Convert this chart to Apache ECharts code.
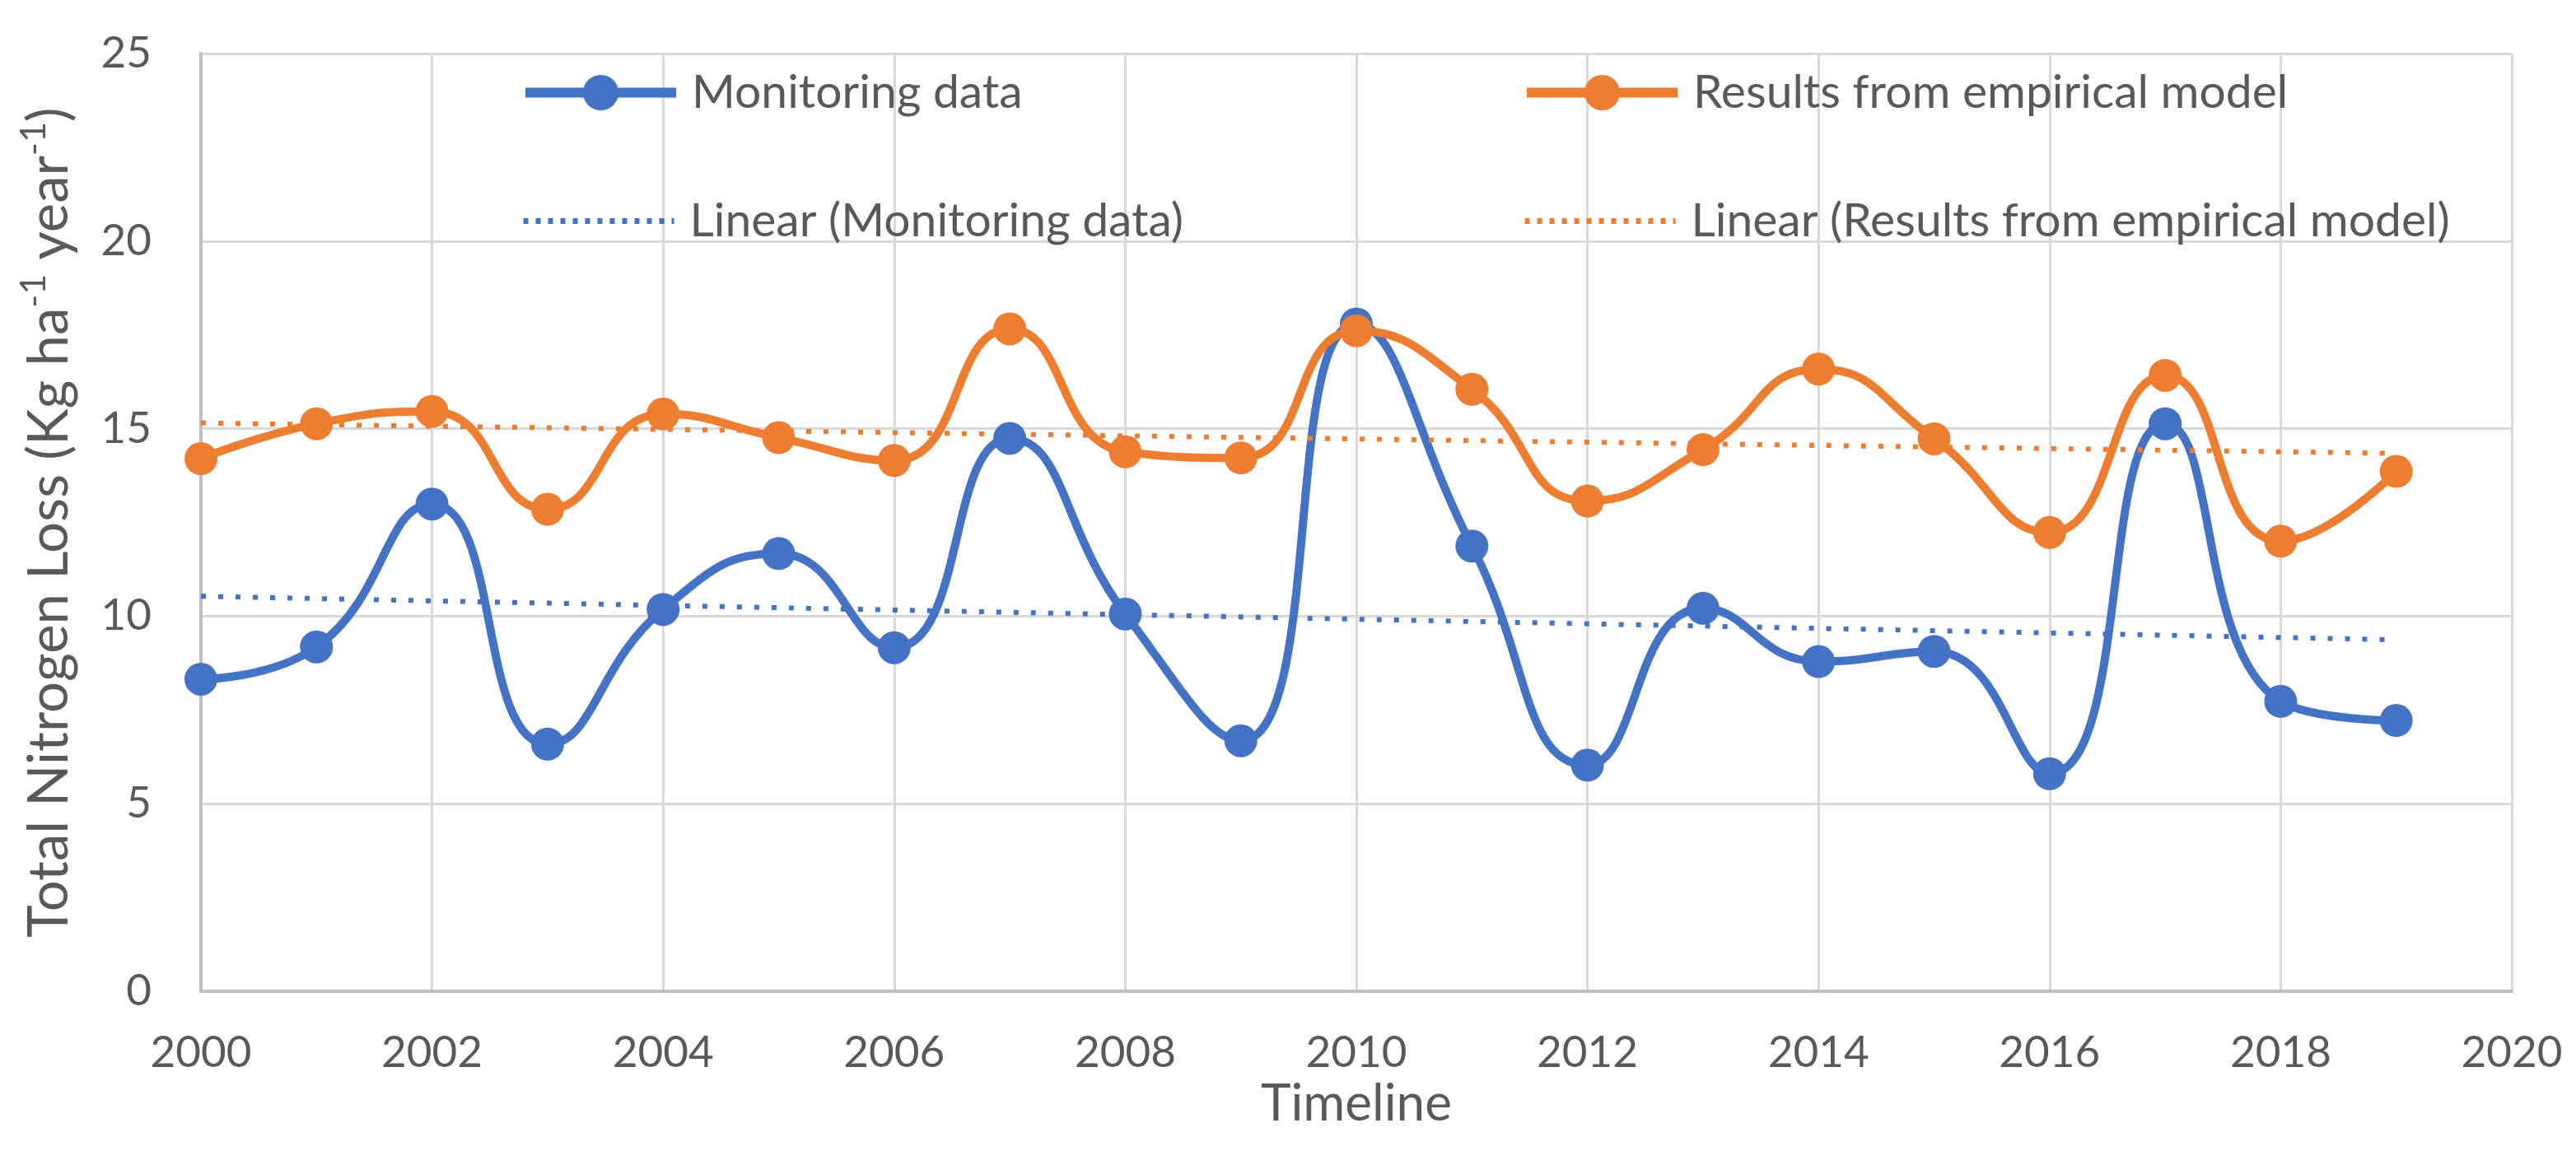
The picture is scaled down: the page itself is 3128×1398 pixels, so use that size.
<!DOCTYPE html>
<html>
<head>
<meta charset="utf-8">
<script src="https://cdn.jsdelivr.net/npm/echarts@6/dist/echarts.min.js"></script>
<style>
html,body{margin:0;padding:0;background:#fff;}
#chart{width:3128px;height:1398px;}
</style>
</head>
<body>
<div id="chart"></div>
<script>
// ---- data ----
const years = [2000, 2001, 2002, 2003, 2004, 2005, 2006, 2007, 2008, 2009,
               2010, 2011, 2012, 2013, 2014, 2015, 2016, 2017, 2018, 2019];
const monitoringData = [8.32, 9.18, 12.99, 6.59, 10.18, 11.67, 9.16, 14.74, 10.06, 6.68,
                        17.79, 11.87, 6.03, 10.21, 8.79, 9.06, 5.80, 15.13, 7.73, 7.22];
const empiricalModel = [14.20, 15.13, 15.46, 12.85, 15.39, 14.76, 14.15, 17.66, 14.38, 14.22,
                        17.61, 16.05, 13.07, 14.44, 16.59, 14.73, 12.23, 16.42, 12.00, 13.86];
const trendYears = [2000, 2019];
const trendMonitoring = [10.53, 9.37];
const trendModel = [15.15, 14.34];
const xTicks = {min: 2000, max: 2020, interval: 2};
const yTicks = {min: 0, max: 25, interval: 5};
const names = {
  mon: 'Monitoring data',
  model: 'Results from empirical model',
  linMon: 'Linear (Monitoring data)',
  linModel: 'Linear (Results from empirical model)'
};

const BLUE = '#4472C4', ORANGE = '#ED7D31', TXT = '#595959';
const FONT = 'Lato';

const pair = (xs, ys) => xs.map((x, i) => [x, ys[i]]);

function legendAt(name, left, top, dotted) {
  const lg = {
    data: [name], left: left, top: top, padding: 0,
    itemWidth: 183, itemHeight: 54, itemGap: 0,
    selectedMode: false,
    textStyle: {fontFamily: FONT, fontSize: 57, color: TXT, lineHeight: 54, padding: [0, 0, 0, 14]}
  };
  if (dotted) {
    lg.lineStyle = {width: 7, type: [6, 9]};
    lg.itemStyle = {opacity: 0};
  } else {
    lg.lineStyle = {width: 12};
  }
  return lg;
}

const chart = echarts.init(document.getElementById('chart'), null, {renderer: 'canvas'});
chart.setOption({
  backgroundColor: '#fff',
  animation: false,
  textStyle: {fontFamily: FONT},
  grid: {left: 244, right: 78, top: 65, bottom: 194, containLabel: false},
  legend: [
    legendAt(names.mon, 632, 84, false),
    legendAt(names.model, 1848, 84, false),
    legendAt(names.linMon, 632, 240, true),
    legendAt(names.linModel, 1848, 240, true)
  ],
  xAxis: {
    type: 'value', min: xTicks.min, max: xTicks.max, interval: xTicks.interval,
    name: 'Timeline', nameLocation: 'middle', nameGap: 100,
    nameTextStyle: {fontFamily: FONT, fontSize: 62, color: TXT},
    axisLine: {show: true, lineStyle: {color: '#BFBFBF', width: 4}},
    axisTick: {show: false},
    axisLabel: {fontFamily: FONT, fontSize: 53, color: TXT, margin: 48, formatter: v => String(v)},
    splitLine: {show: true, lineStyle: {color: '#D9D9D9', width: 3}}
  },
  yAxis: {
    type: 'value', min: yTicks.min, max: yTicks.max, interval: yTicks.interval,
    name: '{t|Total Nitrogen Loss (Kg ha}{s|-1}{t| year}{s|-1}{t|)}',
    nameLocation: 'middle', nameRotate: 90, nameGap: 150,
    nameTextStyle: {
      fontFamily: FONT, color: TXT,
      rich: {
        t: {fontFamily: FONT, fontSize: 67, color: TXT, lineHeight: 74, verticalAlign: 'bottom'},
        s: {fontFamily: FONT, fontSize: 43, color: TXT, lineHeight: 74, verticalAlign: 'top', padding: [0, 0, 28, 0]}
      }
    },
    axisLine: {show: true, lineStyle: {color: '#BFBFBF', width: 4}},
    axisTick: {show: false},
    axisLabel: {fontFamily: FONT, fontSize: 53, color: TXT, margin: 60},
    splitLine: {show: true, lineStyle: {color: '#D9D9D9', width: 3}}
  },
  series: [
    {
      name: names.mon, type: 'line', data: pair(years, monitoringData),
      smooth: 0.5, symbol: 'circle', symbolSize: 40,
      lineStyle: {color: BLUE, width: 10}, itemStyle: {color: BLUE}
    },
    {
      name: names.model, type: 'line', data: pair(years, empiricalModel),
      smooth: 0.5, symbol: 'circle', symbolSize: 40,
      lineStyle: {color: ORANGE, width: 10}, itemStyle: {color: ORANGE}
    },
    {
      name: names.linMon, type: 'line', data: pair(trendYears, trendMonitoring),
      symbol: 'none', lineStyle: {color: BLUE, width: 6, type: [6, 15]}, itemStyle: {color: BLUE}
    },
    {
      name: names.linModel, type: 'line', data: pair(trendYears, trendModel),
      symbol: 'none', lineStyle: {color: ORANGE, width: 6, type: [6, 15]}, itemStyle: {color: ORANGE}
    }
  ]
});
</script>
</body>
</html>
